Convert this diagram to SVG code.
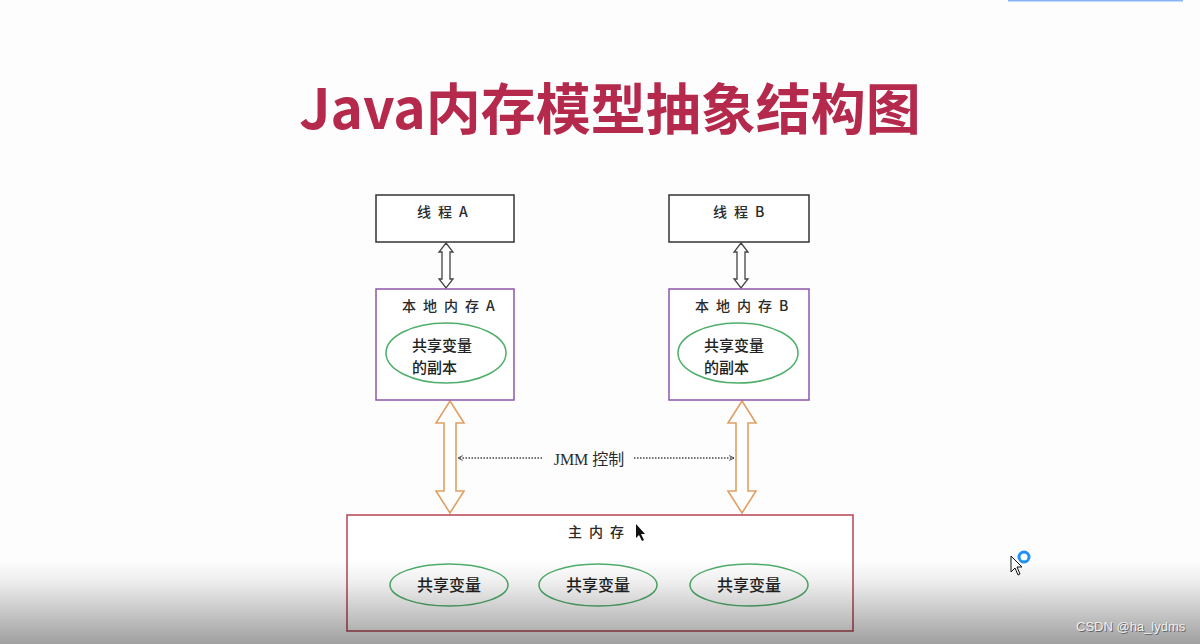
<svg xmlns="http://www.w3.org/2000/svg" width="1200" height="644" viewBox="0 0 1200 644">
  <style>
    .lbl { font-family: "Noto Sans CJK SC", "Noto Sans", sans-serif; font-size: 14px; fill: #2a2a2a; font-weight: 500; letter-spacing: 7px; }
    .var { font-family: "Noto Sans CJK SC", "Noto Sans", sans-serif; font-size: 16px; fill: #222; font-weight: 500; }
    .var2 { font-family: "Noto Sans CJK SC", "Noto Sans", sans-serif; font-size: 15px; fill: #222; font-weight: 500; }
    .box { fill: #ffffff; stroke: #333333; stroke-width: 1.5; }
    .local { fill: #ffffff; stroke: #8e56a8; stroke-width: 1.5; }
    .main { fill: #ffffff; stroke: #b54452; stroke-width: 1.5; }
    .ell { fill: #ffffff; stroke: #4fae6a; stroke-width: 1.5; }
    .hollow { fill: #ffffff; stroke: #444444; stroke-width: 1.3; stroke-linejoin: miter; }
    .orange { fill: #ffffff; stroke: #e0a064; stroke-width: 1.6; stroke-linejoin: miter; }
    .dot { stroke: #444; stroke-width: 1.3; stroke-dasharray: 1.5 1.5; fill: none; }
  </style>
  <defs>
    <marker id="ah" viewBox="0 0 10 10" refX="9" refY="5" markerWidth="6" markerHeight="6" orient="auto-start-reverse" markerUnits="userSpaceOnUse">
      <path d="M1,1 L9,5 L1,9" fill="none" stroke="#444" stroke-width="1.6"/>
    </marker>
    <linearGradient id="shade" x1="0" y1="0" x2="0" y2="1">
      <stop offset="0" stop-color="#000" stop-opacity="0"/>
      <stop offset="0.25" stop-color="#000" stop-opacity="0.06"/>
      <stop offset="1" stop-color="#000" stop-opacity="0.37"/>
    </linearGradient>
  </defs>
  <rect x="0" y="0" width="1200" height="644" fill="#fdfdfd"/>
  <rect x="1008" y="0" width="175" height="1.5" fill="#8ab4f8"/>

  <text x="610" y="129" text-anchor="middle" font-family="Noto Sans CJK SC, Noto Sans, sans-serif" font-weight="700" font-size="55" fill="#b52a4c">Java内存模型抽象结构图</text>

  <g id="connectors">
    <path class="hollow" d="M446,243 L453,252 L450,252 L450,279 L453,279 L446,288 L439,279 L442,279 L442,252 L439,252 Z"/>
    <path class="hollow" d="M741,243 L748,252 L745,252 L745,279 L748,279 L741,288 L734,279 L737,279 L737,252 L734,252 Z"/>
    <path class="orange" d="M450,401 L464,423 L456,423 L456,491 L464,491 L450,513 L436,491 L444,491 L444,423 L436,423 Z"/>
    <path class="orange" d="M742,401 L756,423 L748,423 L748,491 L756,491 L742,513 L728,491 L736,491 L736,423 L728,423 Z"/>
    <line class="dot" x1="542" y1="458" x2="458" y2="458" marker-end="url(#ah)"/>
    <line class="dot" x1="634" y1="458" x2="734" y2="458" marker-end="url(#ah)"/>
    <text x="589" y="465" text-anchor="middle" font-family="Liberation Serif, Noto Sans CJK SC, serif" font-size="16" fill="#2a2a2a">JMM 控制</text>
  </g>

  <g id="threadA">
    <rect class="box" x="376" y="195" width="138" height="47"/>
    <text class="lbl" x="417" y="217">线程A</text>
  </g>
  <g id="threadB">
    <rect class="box" x="669" y="195" width="140" height="47"/>
    <text class="lbl" x="713" y="217">线程B</text>
  </g>

  <g id="localA">
    <rect class="local" x="376" y="289" width="138" height="111"/>
    <text class="lbl" x="402" y="311">本地内存A</text>
    <ellipse class="ell" cx="446" cy="353" rx="60" ry="30"/>
    <text class="var2" x="412" y="351">共享变量</text>
    <text class="var2" x="412" y="373">的副本</text>
  </g>
  <g id="localB">
    <rect class="local" x="669" y="289" width="140" height="111"/>
    <text class="lbl" x="695" y="311">本地内存B</text>
    <ellipse class="ell" cx="738" cy="353" rx="60" ry="30"/>
    <text class="var2" x="704" y="351">共享变量</text>
    <text class="var2" x="704" y="373">的副本</text>
  </g>

  <g id="mainMemory">
    <rect class="main" x="347" y="515" width="506" height="116"/>
    <text class="lbl" x="568" y="537">主内存</text>
    <ellipse class="ell" cx="449" cy="585" rx="59" ry="21"/>
    <text class="var" x="449" y="591" text-anchor="middle">共享变量</text>
    <ellipse class="ell" cx="598" cy="585" rx="59" ry="21"/>
    <text class="var" x="598" y="591" text-anchor="middle">共享变量</text>
    <ellipse class="ell" cx="749" cy="585" rx="59" ry="21"/>
    <text class="var" x="749" y="591" text-anchor="middle">共享变量</text>
  </g>

  <path d="M636,524 L636,538 L639,535 L642,541 L644,540 L641,534 L645,534 Z" fill="#111"/>
  <path d="M1011,556 L1011,572 L1015,568 L1018,575 L1020,574 L1017,567 L1022,567 Z" fill="#fff" stroke="#111" stroke-width="1"/>
  <circle cx="1024" cy="557" r="5" fill="none" stroke="#1e90ff" stroke-width="3"/>

  <rect x="0" y="560" width="1200" height="84" fill="url(#shade)"/>

  <text x="1077" y="632" font-family="Liberation Sans, sans-serif" font-size="13" fill="#666">CSDN @ha_lydms</text>
  <text x="1076" y="631" font-family="Liberation Sans, sans-serif" font-size="13" fill="#eeeeee">CSDN @ha_lydms</text>
</svg>
